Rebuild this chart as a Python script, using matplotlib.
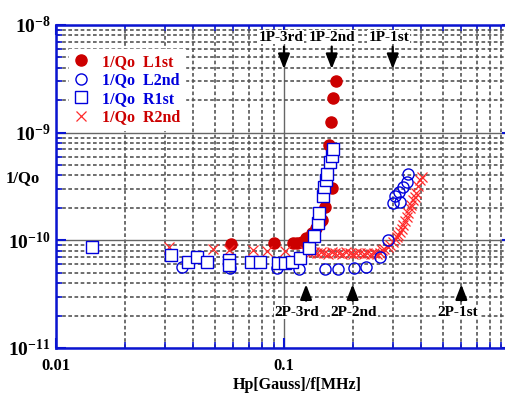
import matplotlib
matplotlib.use("Agg")
import matplotlib.pyplot as plt
from matplotlib.ticker import FixedLocator, FixedFormatter, LogLocator, NullFormatter

plt.rcParams['font.family'] = ['Liberation Serif', 'DejaVu Serif']
plt.rcParams['font.weight'] = 'bold'
plt.rcParams['mathtext.fontset'] = 'custom'
plt.rcParams['mathtext.rm'] = 'Liberation Serif:bold'
plt.rcParams['mathtext.bf'] = 'Liberation Serif:bold'

# 1/Qo L1st (red filled circles)
l1_x = [0.0585, 0.0904, 0.1095, 0.114, 0.120, 0.125, 0.133, 0.138, 0.144, 0.147,
        0.151, 0.163, 0.157, 0.161, 0.164, 0.169]
l1_y = [9.2e-11, 9.4e-11, 9.4e-11, 9.4e-11, 9.6e-11, 1.04e-10, 1.16e-10, 1.29e-10,
        1.47e-10, 1.53e-10, 2.02e-10, 3.03e-10, 7.6e-10, 1.26e-9, 2.1e-9, 3.0e-9]

# 1/Qo L2nd (blue open circles)
l2_x = [0.0357, 0.058, 0.093, 0.1164, 0.151, 0.1725, 0.203, 0.229, 0.264, 0.286,
        0.301, 0.323, 0.307, 0.319, 0.333, 0.346, 0.350]
l2_y = [5.6e-11, 5.5e-11, 5.5e-11, 5.4e-11, 5.4e-11, 5.4e-11, 5.5e-11, 5.7e-11,
        7.0e-11, 1.0e-10, 2.2e-10, 2.25e-10, 2.6e-10, 2.8e-10, 3.1e-10, 3.45e-10, 4.1e-10]

# 1/Qo R1st (blue open squares)
r1_x = [0.0144, 0.0319, 0.0379, 0.0415, 0.0459, 0.0574, 0.0574, 0.0716, 0.0785,
        0.0942, 0.101, 0.109, 0.1175, 0.129, 0.1355, 0.141, 0.1425, 0.148, 0.1497,
        0.153, 0.1545, 0.159, 0.1625, 0.164]
r1_y = [8.6e-11, 7.3e-11, 6.25e-11, 6.97e-11, 6.25e-11, 6.5e-11, 5.9e-11, 6.25e-11,
        6.25e-11, 6.1e-11, 6.1e-11, 6.25e-11, 6.8e-11, 8.4e-11, 1.09e-10, 1.44e-10,
        1.78e-10, 2.6e-10, 3.16e-10, 3.6e-10, 4.17e-10, 5.3e-10, 6.1e-10, 7.1e-10]

# 1/Qo R2nd (red crosses)
r2_x = [0.0313, 0.0489, 0.0574, 0.073, 0.0842, 0.101, 0.124, 0.130, 0.135, 0.140,
        0.145, 0.150, 0.156, 0.162, 0.168, 0.174, 0.180, 0.187, 0.194, 0.201, 0.208,
        0.216, 0.224, 0.232, 0.240, 0.248, 0.256, 0.263, 0.269, 0.276, 0.286, 0.293,
        0.301, 0.307, 0.313, 0.318, 0.323, 0.328, 0.333, 0.340, 0.346, 0.351, 0.357,
        0.362, 0.368, 0.374, 0.380, 0.387, 0.395, 0.403]
r2_y = [8.6e-11, 8.3e-11, 8.1e-11, 8.1e-11, 7.9e-11, 7.9e-11, 7.9e-11, 7.7e-11,
        7.8e-11, 7.6e-11, 7.8e-11, 7.7e-11, 7.5e-11, 7.8e-11, 7.6e-11, 7.7e-11,
        7.5e-11, 7.8e-11, 7.6e-11, 7.5e-11, 7.7e-11, 7.6e-11, 7.4e-11, 7.7e-11,
        7.5e-11, 7.6e-11, 7.4e-11, 7.7e-11, 8.1e-11, 8.3e-11, 8.6e-11, 9.1e-11,
        9.6e-11, 1.02e-10, 1.07e-10, 1.12e-10, 1.19e-10, 1.27e-10, 1.38e-10, 1.50e-10,
        1.63e-10, 1.80e-10, 1.98e-10, 2.15e-10, 2.35e-10, 2.55e-10, 2.73e-10, 3.2e-10,
        3.6e-10, 3.9e-10]

# arrow annotations: label, x of arrow
top_labels = ['1P-3rd', '1P-2nd', '1P-1st']
top_x = [0.1, 0.162, 0.30]
top_text_x = [0.097, 0.162, 0.288]
bot_labels = ['2P-3rd', '2P-2nd', '2P-1st']
bot_x = [0.125, 0.2, 0.6]
bot_text_x = [0.114, 0.203, 0.58]

ytick_vals = [1e-11, 1e-10, 1e-9, 1e-8]
ytick_labels = [r'$\mathbf{10^{-11}}$', r'$\mathbf{10^{-10}}$', r'$\mathbf{10^{-9}}$', r'$\mathbf{10^{-8}}$']
xtick_vals = [0.01, 0.1, 1]
xtick_labels = ['0.01', '0.1', '']

red = '#cc0000'
xred = '#ff2a2a'
blue = '#0000dd'
spine_blue = '#0a14d2'

fig = plt.figure(figsize=(5.06, 3.94), dpi=100)
ax = fig.add_axes([0.1107, 0.1168, 0.901, 0.8198])
ax.set_xscale('log')
ax.set_yscale('log')
ax.set_xlim(0.01, 1)
ax.set_ylim(1e-11, 1e-8)

ax.plot(l1_x, l1_y, 'o', color=red, ms=8, mec=red, label='1/Qo  L1st', zorder=3)
ax.plot(r2_x, r2_y, 'x', color=xred, ms=7.5, mew=0.9, label='1/Qo  R2nd', zorder=4)
ax.plot(l2_x, l2_y, 'o', mfc='none', mec=blue, ms=8, mew=1.0, label='1/Qo  L2nd', zorder=5)
ax.plot(r1_x, r1_y, 's', mfc='white', mec=blue, ms=8.5, mew=1.0, label='1/Qo  R1st', zorder=6)

ax.yaxis.set_major_locator(FixedLocator(ytick_vals))
ax.yaxis.set_major_formatter(FixedFormatter(ytick_labels))
ax.xaxis.set_major_locator(FixedLocator(xtick_vals))
ax.xaxis.set_major_formatter(FixedFormatter(xtick_labels))
ax.xaxis.set_minor_locator(LogLocator(base=10, subs=range(2, 10)))
ax.yaxis.set_minor_locator(LogLocator(base=10, subs=range(2, 10)))
ax.xaxis.set_minor_formatter(NullFormatter())
ax.yaxis.set_minor_formatter(NullFormatter())

ax.grid(True, which='major', color='#666666', linestyle='-', linewidth=1.0, zorder=1)
ax.grid(True, which='minor', color='#555555', linestyle=(0, (2.2, 1.5)), linewidth=1.2, zorder=1)
ax.set_axisbelow(True)

for s in ax.spines.values():
    s.set_color(spine_blue)
    s.set_linewidth(1.8)
ax.tick_params(which='major', direction='in', length=7, width=1.5, color=spine_blue,
               top=True, right=True)
ax.tick_params(which='minor', direction='in', length=4, width=1.2, color=spine_blue,
               top=True, right=True)
ax.tick_params(axis='x', labelsize=12, pad=7)
ax.tick_params(axis='y', labelsize=14, pad=4)

ax.set_ylabel('1/Qo', rotation=0, fontsize=12, fontweight='bold')
ax.yaxis.set_label_coords(-0.035, 0.5)
ax.yaxis.label.set_horizontalalignment('right')
ax.set_xlabel('Hp[Gauss]/f[MHz]', fontsize=11.5, fontweight='bold')
ax.xaxis.set_label_coords(0.53, -0.09)

arrow_style = dict(arrowstyle='-|>,head_width=0.35,head_length=0.9', color='black',
                   lw=1.6, shrinkA=0, shrinkB=0)
text_box = dict(facecolor='white', edgecolor='none', pad=0.5)
for lab, xa, xt in zip(top_labels, top_x, top_text_x):
    ax.text(xt, 7.7e-9, lab, ha='center', va='center', fontsize=11, fontweight='bold',
            bbox=text_box, zorder=7)
    ax.annotate('', xy=(xa, 3.9e-9), xytext=(xa, 6.3e-9), arrowprops=arrow_style, zorder=7)
for lab, xa, xt in zip(bot_labels, bot_x, bot_text_x):
    ax.text(xt, 2.15e-11, lab, ha='center', va='center', fontsize=11, fontweight='bold',
            bbox=text_box, zorder=7)
    ax.annotate('', xy=(xa, 3.9e-11), xytext=(xa, 2.75e-11), arrowprops=arrow_style, zorder=7)

h, l = ax.get_legend_handles_labels()
order = [0, 2, 3, 1]
leg_colors = [red, blue, blue, red]
leg = ax.legend([h[i] for i in order], [l[i] for i in order], loc='upper left',
                bbox_to_anchor=(0.01, 0.95), frameon=True, framealpha=1,
                edgecolor='white', fancybox=False, fontsize=11.5, handlelength=1.0,
                handletextpad=0.8, labelspacing=0.15, borderpad=0.3)
leg.set_zorder(8)
for txt, c in zip(leg.get_texts(), leg_colors):
    txt.set_color(c)
    txt.set_fontweight('bold')

fig.savefig('out.png', dpi=100)
